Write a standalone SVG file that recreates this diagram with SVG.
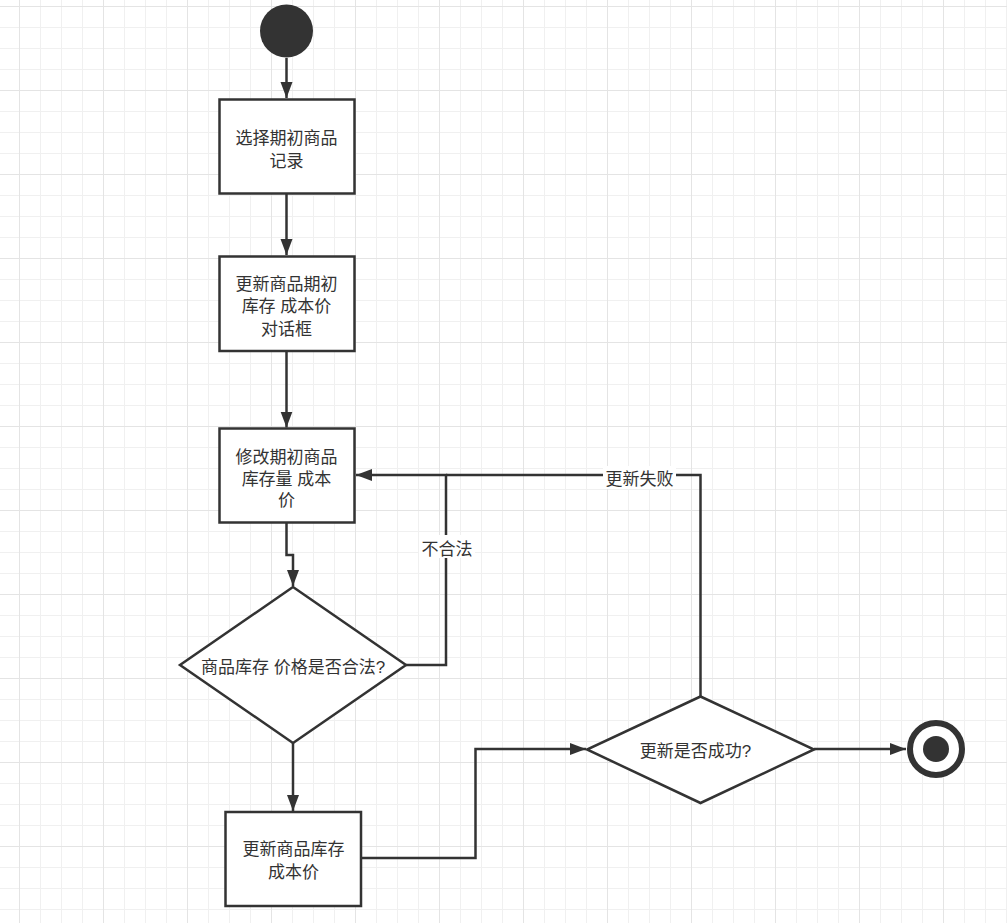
<svg xmlns="http://www.w3.org/2000/svg" width="1007" height="923" viewBox="0 0 1007 923">
<defs>
<pattern id="grid" patternUnits="userSpaceOnUse" x="19" y="6" width="84" height="84">
<rect x="0" y="0" width="84" height="84" fill="#ffffff"/>
<rect x="21" y="0" width="1" height="84" fill="#f0f0f0"/>
<rect x="42" y="0" width="1" height="84" fill="#f0f0f0"/>
<rect x="63" y="0" width="1" height="84" fill="#f0f0f0"/>
<rect x="0" y="21" width="84" height="1" fill="#f0f0f0"/>
<rect x="0" y="42" width="84" height="1" fill="#f0f0f0"/>
<rect x="0" y="63" width="84" height="1" fill="#f0f0f0"/>
<rect x="0" y="0" width="1" height="84" fill="#e4e4e4"/>
<rect x="0" y="0" width="84" height="1" fill="#e4e4e4"/>
</pattern>
<marker id="arrow" markerUnits="userSpaceOnUse" markerWidth="18" markerHeight="14" refX="16" refY="6.5" orient="auto">
<path d="M0,0.5 L16,6.5 L0,12.5 Z" fill="#333333"/>
</marker>
</defs>
<style>
.shape { fill: #ffffff; stroke: #333333; stroke-width: 2.5; }
.conn { fill: none; stroke: #333333; stroke-width: 2.5; }
.label { font-family: "Liberation Sans", "Noto Sans CJK SC", sans-serif; font-size: 17px; fill: #333333; text-anchor: middle; }
.bg { fill: #ffffff; }
</style>
<rect x="0" y="0" width="1007" height="923" fill="url(#grid)"/>

<g id="connectors">
<path class="conn" d="M286.5,58 L286.5,98" marker-end="url(#arrow)"/>
<path class="conn" d="M286.5,193.5 L286.5,255" marker-end="url(#arrow)"/>
<path class="conn" d="M286.5,351 L286.5,427.5" marker-end="url(#arrow)"/>
<path class="conn" d="M286.5,522.5 L286.5,555 L293,555 L293,586" marker-end="url(#arrow)"/>
<path class="conn" d="M406,665 L446,665 L446,475 L356,475" marker-end="url(#arrow)"/>
<path class="conn" d="M293,743 L293,811" marker-end="url(#arrow)"/>
<path class="conn" d="M361,858 L475.5,858 L475.5,749 L586,749" marker-end="url(#arrow)"/>
<path class="conn" d="M700.5,696.5 L700.5,475 L446,475"/>
<path class="conn" d="M814,749 L906,749" marker-end="url(#arrow)"/>
<rect class="bg" x="419" y="535" width="56" height="23"/>
<text class="label" x="447" y="554.5">不合法</text>
<rect class="bg" x="603" y="466" width="73" height="23"/>
<text class="label" x="639.5" y="485">更新失败</text>
</g>

<g id="start">
<circle cx="286.5" cy="31" r="26.5" fill="#333333"/>
</g>

<g id="select">
<rect class="shape" x="219.5" y="99.5" width="135" height="94"/>
<text class="label" x="286.5" y="144"><tspan x="286.5">选择期初商品</tspan><tspan x="286.5" dy="22.5">记录</tspan></text>
</g>

<g id="dialog">
<rect class="shape" x="219.5" y="256.5" width="135" height="94.5"/>
<text class="label" x="286.5" y="289.5"><tspan x="286.5">更新商品期初</tspan><tspan x="286.5" dy="22.5">库存 成本价</tspan><tspan x="286.5" dy="22.5">对话框</tspan></text>
</g>

<g id="modify">
<rect class="shape" x="219.5" y="428.5" width="135" height="94"/>
<text class="label" x="286.5" y="462.5"><tspan x="286.5">修改期初商品</tspan><tspan x="286.5" dy="22">库存量 成本</tspan><tspan x="286.5" dy="21">价</tspan></text>
</g>

<g id="check">
<polygon class="shape" points="293,587 406,665 293,743 180,665"/>
<text class="label" x="293" y="672.5">商品库存 价格是否合法?</text>
</g>

<g id="update">
<rect class="shape" x="225.5" y="812" width="135.5" height="94"/>
<text class="label" x="293.5" y="855"><tspan x="293.5">更新商品库存</tspan><tspan x="293.5" dy="23">成本价</tspan></text>
</g>

<g id="success">
<polygon class="shape" points="700.5,696.5 814,749.5 700.5,803 587,749.5"/>
<text class="label" x="695.5" y="757">更新是否成功?</text>
</g>

<g id="end">
<circle cx="936" cy="749" r="26" fill="#ffffff" stroke="#333333" stroke-width="6"/>
<circle cx="936" cy="749" r="13" fill="#333333"/>
</g>
</svg>
